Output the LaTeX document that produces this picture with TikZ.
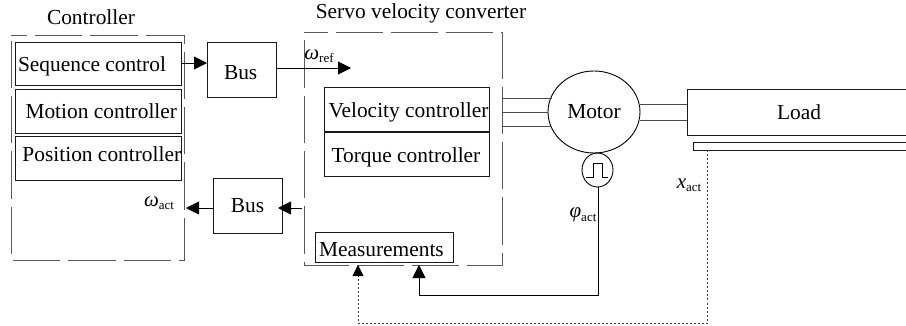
\documentclass[tikz,border=0pt]{standalone}
\usepackage{fontspec}
\setmainfont{Liberation Serif}
\usetikzlibrary{shapes.geometric,arrows.meta}
\newcommand{\sym}[2]{{\fontsize{21}{22}\selectfont\textit{#1}}\raisebox{-3.5pt}{\fontsize{13}{13}\selectfont #2}}
\newcommand{\shifted}[3]{\raisebox{#1}[\height][\depth]{\makebox[#2][l]{#3}}}
\tikzset{
  x=1pt,y=-1pt,
  every node/.style={font=\fontsize{21.4}{23}\selectfont,inner sep=0pt,outer sep=0pt},
  pbox/.style={draw=black!90,line width=0.9pt,rectangle,anchor=north west},
  group/.style={rectangle,anchor=north west},
  groupline/.style={draw=black!65,line width=0.95pt,dash pattern=on 47.3pt off 8pt},
  conn/.style={draw=black,line width=0.9pt},
  arrowed/.style={conn,-{Triangle[length=13pt,width=13pt]}},
  wire/.style={draw=black!70,line width=0.95pt},
  dotline/.style={draw=black!75,line width=0.9pt,dash pattern=on 2pt off 2pt},
  round/.style={draw=black,line width=0.9pt,ellipse}
}
\begin{document}
\begin{tikzpicture}
\useasboundingbox (0,0) rectangle (906,326);
% dashed groups
\node[group,minimum width=173pt,minimum height=225pt] (ctrl) at (11,35) {};
\node[group,minimum width=197.5pt,minimum height=233pt] (servo) at (304.5,32) {};
\draw[groupline,dash phase=31.3pt] (ctrl.north west) -- (ctrl.north east) -- (ctrl.south east) -- (ctrl.south west) -- cycle;
\draw[groupline,dash phase=24.3pt] (servo.north west) -- (servo.north east) -- (servo.south east) -- (servo.south west) -- cycle;
% group titles
\node (tctrl) at (91,17) {Controller};
\node (tservo) at (421,13) {Servo velocity converter};
% controller boxes
\node[pbox,minimum width=165.5pt,minimum height=43.5pt] (seq) at (15.5,42) {\shifted{-2.5pt}{165.5pt}{\hspace{2.5pt}Sequence control}};
\node[pbox,minimum width=165.5pt,minimum height=44pt] (mot) at (15.5,89) {\shifted{0pt}{165.5pt}{\hspace{10pt}Motion controller}};
\node[pbox,minimum width=165.5pt,minimum height=44pt] (pos) at (15.5,136) {\shifted{4pt}{165.5pt}{\hspace{7pt}Position controller}};
% buses
\node[pbox,minimum width=69pt,minimum height=55.5pt] (bus1) at (207,42) {\shifted{-2.5pt}{35pt}{Bus}};
\node[pbox,minimum width=69pt,minimum height=55.5pt] (bus2) at (213,178) {Bus};
% servo boxes
\node[pbox,minimum width=165pt,minimum height=44pt] (vel) at (324,87.5) {\shifted{-2.5pt}{165pt}{\hspace{4.5pt}Velocity controller}};
\node[pbox,minimum width=165pt,minimum height=44pt] (tor) at (324,132) {\shifted{-3.5pt}{150pt}{Torque controller}};
\node[pbox,minimum width=137.5pt,minimum height=30.5pt] (meas) at (315.5,232) {\shifted{-2.5pt}{137.5pt}{\hspace{3.5pt}Measurements}};
% motor, encoder, load
\node[round,minimum width=92pt,minimum height=82pt] (motor) at (594,112) {Motor};
\node[round,minimum width=31pt,minimum height=34pt] (enc) at (597.5,170) {};
\node[pbox,minimum width=225pt,minimum height=46.5pt] (load) at (687,89) {\makebox[225pt][l]{\hspace{90pt}Load}};
\node[pbox,minimum width=219pt,minimum height=8pt] (rail) at (693,142.5) {};
% labels
\node (wref) at (319,56) {\sym{ω}{ref}};
\node (wact) at (159,203) {\sym{ω}{act}};
\node (phi) at (583,215) {\sym{φ}{act}};
\node (xact) at (689,185) {\sym{x}{act}};
% free ends and bends
\coordinate (reftip) at (351,68);
\coordinate (acttip) at (186,208);
\coordinate (bus2in) at (302,208);
\coordinate (bus2tip) at (278,208);
\coordinate (phibend) at (598,295);
\coordinate (measA) at (419,265);
\coordinate (measB) at (358,265);
\coordinate (xbend) at (707,323);
\coordinate (xstart) at (707,150.5);
% arrows
\draw[arrowed] (seq.east |- 0,63) -- (bus1.west |- 0,63);
\draw[arrowed] (bus1.east |- reftip) -- (reftip);
\draw[arrowed] (bus2.west |- acttip) -- (acttip);
\draw[arrowed] (bus2in) -- (bus2tip);
\draw[arrowed] (enc.south -| phibend) -- (phibend) -- (phibend -| measA) -- (measA);
\draw[dotline] (xstart) -- (xbend) -- (xbend -| measB) -- ([yshift=-10pt]measB);
\draw[conn,-{Triangle[length=11pt,width=11pt]}] ([yshift=-10.5pt]measB) -- (measB);
% three-phase wires
\draw[wire] (servo.east |- 0,98.5) -- (552,98.5);
\draw[wire] (servo.east |- 0,112.5) -- (motor.west |- 0,112.5);
\draw[wire] (servo.east |- 0,126.5) -- (552,126.5);
% shaft
\draw[wire] (motor.east |- 0,104.5) -- (load.west |- 0,104.5);
\draw[wire] (motor.east |- 0,120.5) -- (load.west |- 0,120.5);
% encoder pulse
\draw[conn] (586,177) -- (593,177) -- (593,163) -- (602,163) -- (602,177) -- (608,177);
\end{tikzpicture}
\end{document}
